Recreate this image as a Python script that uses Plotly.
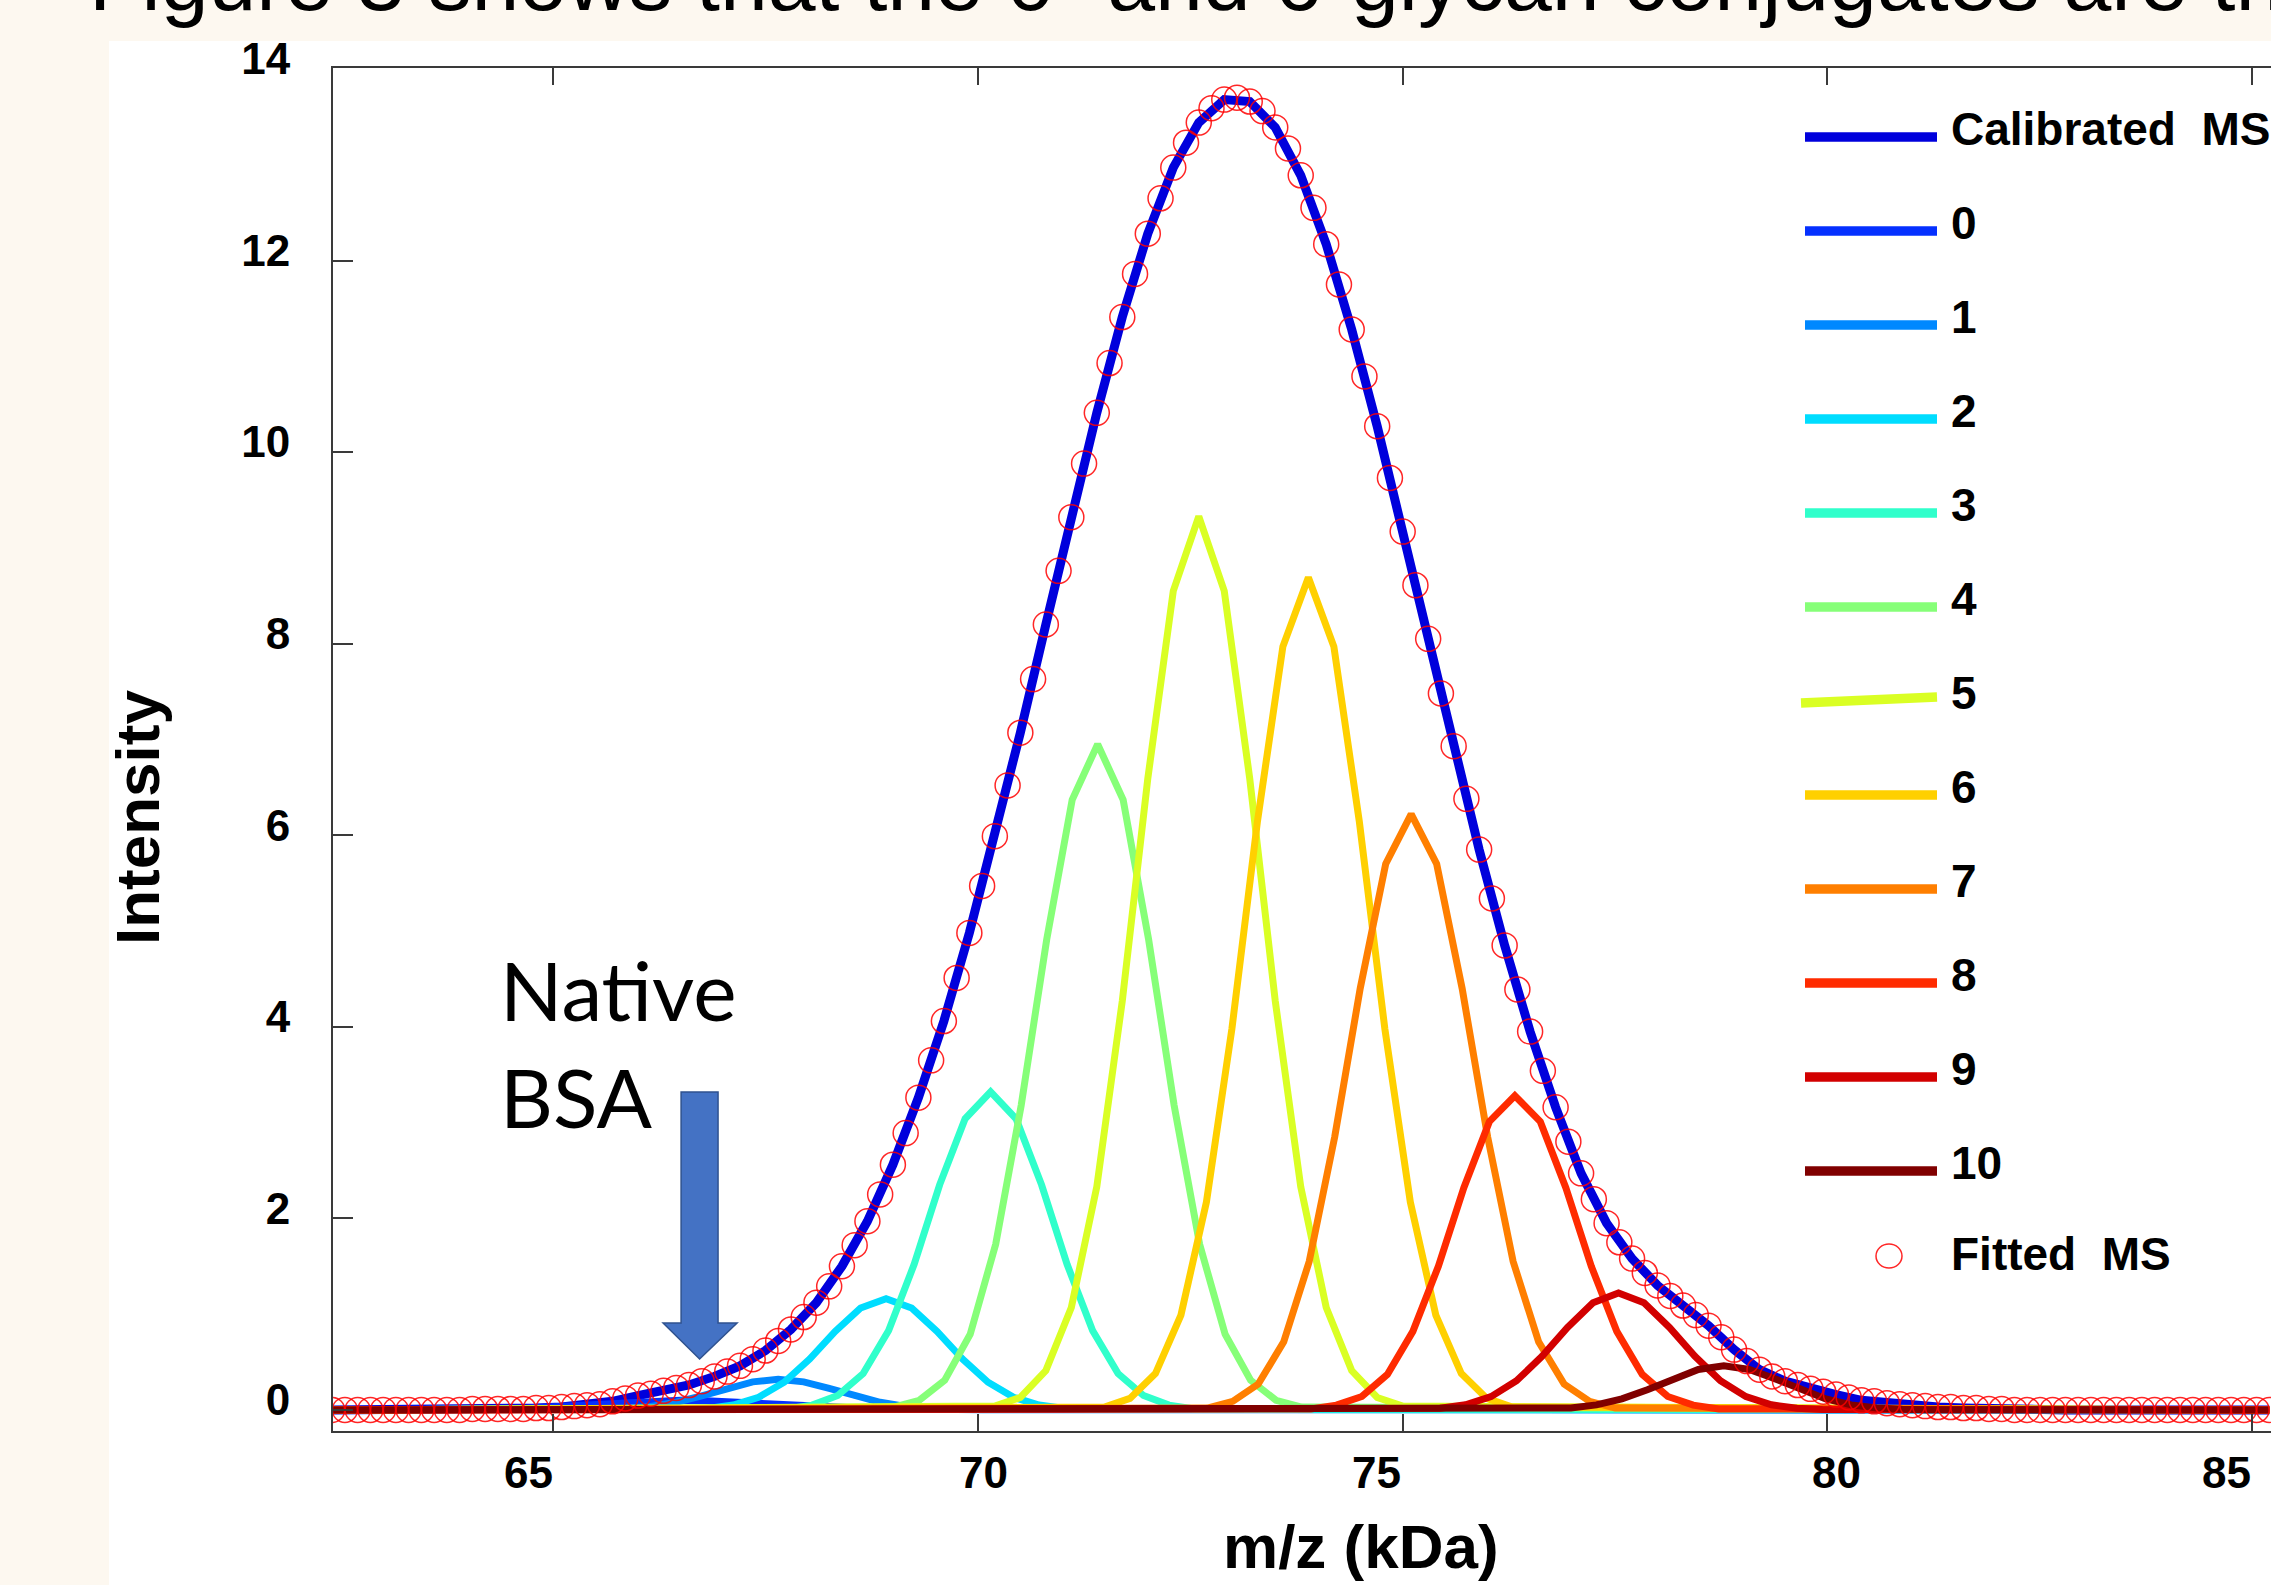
import plotly.graph_objects as go

# ---------------- data ----------------
mz_fit = [
    62.40, 62.55, 62.70, 62.85, 63.00, 63.15, 63.30, 63.45, 63.60, 63.75,
    63.90, 64.05, 64.20, 64.35, 64.50, 64.65, 64.80, 64.95, 65.10, 65.25,
    65.40, 65.55, 65.70, 65.85, 66.00, 66.15, 66.30, 66.45, 66.60, 66.75,
    66.90, 67.05, 67.20, 67.35, 67.50, 67.65, 67.80, 67.95, 68.10, 68.25,
    68.40, 68.55, 68.70, 68.85, 69.00, 69.15, 69.30, 69.45, 69.60, 69.75,
    69.90, 70.05, 70.20, 70.35, 70.50, 70.65, 70.80, 70.95, 71.10, 71.25,
    71.40, 71.55, 71.70, 71.85, 72.00, 72.15, 72.30, 72.45, 72.60, 72.75,
    72.90, 73.05, 73.20, 73.35, 73.50, 73.65, 73.80, 73.95, 74.10, 74.25,
    74.40, 74.55, 74.70, 74.85, 75.00, 75.15, 75.30, 75.45, 75.60, 75.75,
    75.90, 76.05, 76.20, 76.35, 76.50, 76.65, 76.80, 76.95, 77.10, 77.25,
    77.40, 77.55, 77.70, 77.85, 78.00, 78.15, 78.30, 78.45, 78.60, 78.75,
    78.90, 79.05, 79.20, 79.35, 79.50, 79.65, 79.80, 79.95, 80.10, 80.25,
    80.40, 80.55, 80.70, 80.85, 81.00, 81.15, 81.30, 81.45, 81.60, 81.75,
    81.90, 82.05, 82.20, 82.35, 82.50, 82.65, 82.80, 82.95, 83.10, 83.25,
    83.40, 83.55, 83.70, 83.85, 84.00, 84.15, 84.30, 84.45, 84.60, 84.75,
    84.90, 85.05, 85.20,
]
fitted_ms = [
    0.00, 0.00, 0.00, 0.00, 0.00, 0.00, 0.00, 0.00, 0.00, 0.00,
    0.00, 0.01, 0.01, 0.01, 0.01, 0.01, 0.02, 0.02, 0.03, 0.04,
    0.05, 0.06, 0.09, 0.12, 0.15, 0.17, 0.20, 0.23, 0.26, 0.30,
    0.35, 0.40, 0.46, 0.53, 0.62, 0.72, 0.84, 0.97, 1.12, 1.29,
    1.50, 1.72, 1.97, 2.25, 2.56, 2.89, 3.26, 3.65, 4.06, 4.51,
    4.98, 5.47, 5.99, 6.52, 7.07, 7.63, 8.20, 8.76, 9.32, 9.88,
    10.41, 10.93, 11.41, 11.86, 12.28, 12.65, 12.97, 13.23, 13.44, 13.59,
    13.68, 13.70, 13.66, 13.56, 13.39, 13.17, 12.89, 12.55, 12.17, 11.75,
    11.28, 10.79, 10.27, 9.73, 9.17, 8.61, 8.05, 7.48, 6.93, 6.38,
    5.85, 5.34, 4.85, 4.39, 3.95, 3.54, 3.16, 2.80, 2.47, 2.20,
    1.95, 1.75, 1.58, 1.43, 1.30, 1.19, 1.09, 0.99, 0.88, 0.76,
    0.63, 0.51, 0.42, 0.35, 0.30, 0.26, 0.22, 0.19, 0.16, 0.13,
    0.10, 0.09, 0.07, 0.06, 0.05, 0.04, 0.03, 0.03, 0.02, 0.02,
    0.01, 0.01, 0.00, 0.00, 0.00, 0.00, 0.00, 0.00, 0.00, 0.00,
    0.00, 0.00, 0.00, 0.00, 0.00, 0.00, 0.00, 0.00, 0.00, 0.00,
    0.00, 0.00, 0.00,
]

mz_cal = [
    62.4, 62.7, 63.0, 63.3, 63.6, 63.9, 64.2, 64.5, 64.8, 65.1,
    65.4, 65.7, 66.0, 66.3, 66.6, 66.9, 67.2, 67.5, 67.8, 68.1,
    68.4, 68.7, 69.0, 69.3, 69.6, 69.9, 70.2, 70.5, 70.8, 71.1,
    71.4, 71.7, 72.0, 72.3, 72.6, 72.9, 73.2, 73.5, 73.8, 74.1,
    74.4, 74.7, 75.0, 75.3, 75.6, 75.9, 76.2, 76.5, 76.8, 77.1,
    77.4, 77.7, 78.0, 78.3, 78.6, 78.9, 79.2, 79.5, 79.8, 80.1,
    80.4, 80.7, 81.0, 81.3, 81.6, 81.9, 82.2, 82.5, 82.8, 83.1,
    83.4, 83.7, 84.0, 84.3, 84.6, 84.9, 85.2,
]
calibrated_ms = [
    0.00, 0.00, 0.00, 0.00, 0.00, 0.00, 0.01, 0.01, 0.02, 0.03,
    0.05, 0.09, 0.15, 0.20, 0.26, 0.35, 0.46, 0.62, 0.84, 1.12,
    1.50, 1.97, 2.56, 3.26, 4.06, 4.98, 5.99, 7.07, 8.20, 9.32,
    10.41, 11.41, 12.28, 12.97, 13.44, 13.68, 13.66, 13.39, 12.89, 12.17,
    11.28, 10.27, 9.17, 8.05, 6.93, 5.85, 4.85, 3.95, 3.16, 2.47,
    1.95, 1.58, 1.30, 1.09, 0.88, 0.63, 0.42, 0.30, 0.22, 0.16,
    0.10, 0.07, 0.05, 0.03, 0.02, 0.01, 0.00, 0.00, 0.00, 0.00,
    0.00, 0.00, 0.00, 0.00, 0.00, 0.00, 0.00,
]

component_labels = ["0", "1", "2", "3", "4", "5", "6", "7", "8", "9", "10"]
component_mz = [
    [62.4, 64.1, 64.4, 64.7, 65.0, 65.3, 65.6, 65.9, 66.2, 66.5, 66.8, 67.1, 67.4, 67.7, 68.0, 68.3, 68.6, 68.9, 85.2],
    [62.4, 65.25, 65.55, 65.85, 66.15, 66.45, 66.75, 67.05, 67.35, 67.65, 67.95, 68.25, 68.55, 68.85, 69.15, 69.45, 69.75, 70.05, 85.2],
    [62.4, 66.52, 66.82, 67.12, 67.42, 67.72, 68.02, 68.32, 68.62, 68.92, 69.22, 69.52, 69.82, 70.12, 70.42, 70.72, 71.02, 71.32, 85.2],
    [62.4, 67.75, 68.05, 68.35, 68.65, 68.95, 69.25, 69.55, 69.85, 70.15, 70.45, 70.75, 71.05, 71.35, 71.65, 71.95, 72.25, 72.55, 85.2],
    [62.4, 69.01, 69.31, 69.61, 69.91, 70.21, 70.51, 70.81, 71.11, 71.41, 71.71, 72.01, 72.31, 72.61, 72.91, 73.21, 73.51, 73.81, 85.2],
    [62.4, 70.2, 70.5, 70.8, 71.1, 71.4, 71.7, 72.0, 72.3, 72.6, 72.9, 73.2, 73.5, 73.8, 74.1, 74.4, 74.7, 75.0, 85.2],
    [62.4, 71.49, 71.79, 72.09, 72.39, 72.69, 72.99, 73.29, 73.59, 73.89, 74.19, 74.49, 74.79, 75.09, 75.39, 75.69, 75.99, 76.29, 85.2],
    [62.4, 72.7, 73.0, 73.3, 73.6, 73.9, 74.2, 74.5, 74.8, 75.1, 75.4, 75.7, 76.0, 76.3, 76.6, 76.9, 77.2, 77.5, 85.2],
    [62.4, 73.92, 74.22, 74.52, 74.82, 75.12, 75.42, 75.72, 76.02, 76.32, 76.62, 76.92, 77.22, 77.52, 77.82, 78.12, 78.42, 78.72, 85.2],
    [62.4, 75.14, 75.44, 75.74, 76.04, 76.34, 76.64, 76.94, 77.24, 77.54, 77.84, 78.14, 78.44, 78.74, 79.04, 79.34, 79.64, 79.94, 85.2],
    [62.4, 76.38, 76.68, 76.98, 77.28, 77.58, 77.88, 78.18, 78.48, 78.78, 79.08, 79.38, 79.68, 79.98, 80.28, 80.58, 80.88, 81.18, 85.2],
]
component_intensity = [
    [0, 0.006, 0.011, 0.020, 0.033, 0.049, 0.067, 0.084, 0.096, 0.100, 0.096, 0.084, 0.067, 0.049, 0.033, 0.020, 0.011, 0.006, 0],
    [0, 0.001, 0.005, 0.014, 0.037, 0.080, 0.146, 0.226, 0.293, 0.320, 0.293, 0.226, 0.146, 0.080, 0.037, 0.014, 0.005, 0.001, 0],
    [0, 0.005, 0.016, 0.051, 0.132, 0.289, 0.531, 0.820, 1.064, 1.160, 1.064, 0.820, 0.531, 0.289, 0.132, 0.051, 0.016, 0.005, 0],
    [0, 0.01, 0.05, 0.15, 0.38, 0.83, 1.52, 2.35, 3.04, 3.32, 3.04, 2.35, 1.52, 0.83, 0.38, 0.15, 0.05, 0.01, 0],
    [0, 0.03, 0.10, 0.31, 0.79, 1.73, 3.18, 4.91, 6.37, 6.95, 6.37, 4.91, 3.18, 1.73, 0.79, 0.31, 0.10, 0.03, 0],
    [0, 0.04, 0.13, 0.41, 1.07, 2.33, 4.27, 6.59, 8.55, 9.33, 8.55, 6.59, 4.27, 2.33, 1.07, 0.41, 0.13, 0.04, 0],
    [0, 0.03, 0.12, 0.38, 0.99, 2.17, 3.98, 6.14, 7.97, 8.69, 7.97, 6.14, 3.98, 2.17, 0.99, 0.38, 0.12, 0.03, 0],
    [0, 0.02, 0.09, 0.27, 0.71, 1.55, 2.85, 4.40, 5.70, 6.22, 5.70, 4.40, 2.85, 1.55, 0.71, 0.27, 0.09, 0.02, 0],
    [0, 0.01, 0.05, 0.14, 0.37, 0.82, 1.50, 2.32, 3.01, 3.28, 3.01, 2.32, 1.50, 0.82, 0.37, 0.14, 0.05, 0.01, 0],
    [0, 0.005, 0.017, 0.054, 0.139, 0.304, 0.559, 0.862, 1.119, 1.220, 1.119, 0.862, 0.559, 0.304, 0.139, 0.054, 0.017, 0.005, 0],
    [0, 0.002, 0.007, 0.020, 0.053, 0.115, 0.211, 0.325, 0.422, 0.460, 0.422, 0.325, 0.211, 0.115, 0.053, 0.020, 0.007, 0.002, 0],
]

x_tick_values = [65, 70, 75, 80, 85]
x_tick_labels = ["65", "70", "75", "80", "85"]
y_tick_values = [0, 2, 4, 6, 8, 10, 12, 14]
y_tick_labels = ["0", "2", "4", "6", "8", "10", "12", "14"]

top_text = "Figure 3 shows that the 0- and 6-glycan conjugates are th"
x_title = "m/z (kDa)"
y_title = "Intensity"
note_text = "Native<br>BSA"
calibrated_name = "Calibrated\u00a0 MS"
fitted_name = "Fitted\u00a0 MS"

# ---------------- layout / style ----------------
W, H = 2271, 1585
ML, MR, MT, MB = 333, 0, 68, 154
PW = W - ML - MR
PH = H - MT - MB


def px_x(p):
    return (p - ML) / PW


def px_y(p):
    return (H - MB - p) / PH


X_RANGE = [62.41, 85.22]
Y_RANGE = [-0.22, 14.01]
CREAM = "#FDF8F0"
CAL_COLOR = "#0000DC"
COMP_COLORS = ["#0530FF", "#0088FF", "#00DDFF", "#30FFCB", "#86FF78", "#DAFF24",
               "#FFD000", "#FF7F00", "#FF2B00", "#D20000", "#800000"]
FIT_COLOR = "rgba(255,0,0,0.85)"
AXIS_COLOR = "#3a3a3a"
FONT = "Liberation Sans"
BOLD44 = dict(family=FONT, size=44, color="black", weight="bold")
x_label_shift_px = [-25, 6, -26, 9, -26]

fig = go.Figure()
fig.add_trace(go.Scatter(x=mz_cal, y=calibrated_ms, mode="lines", name=calibrated_name,
                         line=dict(color=CAL_COLOR, width=9), showlegend=False))
for lab, xs, ys, col in zip(component_labels, component_mz, component_intensity, COMP_COLORS):
    fig.add_trace(go.Scatter(x=xs, y=ys, mode="lines", name=lab,
                             line=dict(color=col, width=7), showlegend=False))
fig.add_trace(go.Scatter(x=mz_fit, y=fitted_ms, mode="markers", name=fitted_name,
                         marker=dict(symbol="circle-open", size=25, color=FIT_COLOR,
                                     line=dict(width=1.5, color=FIT_COLOR)),
                         showlegend=False))

shapes = []
# white slide panel behind the chart
shapes.append(dict(type="rect", xref="paper", yref="paper", layer="below",
                   x0=px_x(109), x1=1.05, y0=-0.3, y1=px_y(41),
                   fillcolor="white", line=dict(width=0)))
# blue arrow pointing at native BSA
ax0, ax1, hx0, hx1, axt = 66.507, 66.942, 66.295, 67.166, 66.725
ayt, ayn, ayp = 3.32, 0.908, 0.532
shapes.append(dict(type="path", xref="x", yref="y", layer="above",
                   path=f"M {ax0},{ayt} L {ax1},{ayt} L {ax1},{ayn} L {hx1},{ayn} "
                        f"L {axt},{ayp} L {hx0},{ayn} L {ax0},{ayn} Z",
                   fillcolor="#4472C4", line=dict(color="#2F528F", width=1.5)))

annotations = []
# legend (custom, long sample lines)
legend_names = [calibrated_name] + component_labels
legend_colors = [CAL_COLOR] + COMP_COLORS
LEG_X0, LEG_X1, LEG_TX = 1805, 1937, 1949
LEG_ROW0, LEG_STEP = 137, 94
legend_tilt_px = {"5": (2, -4, -4)}
for i, (nm, col) in enumerate(zip(legend_names, legend_colors)):
    yrow = LEG_ROW0 + LEG_STEP * i
    dl, dr, dx = legend_tilt_px.get(nm, (0, 0, 0))
    shapes.append(dict(type="line", xref="paper", yref="paper",
                       x0=px_x(LEG_X0 + dx), x1=px_x(LEG_X1), y0=px_y(yrow + dl), y1=px_y(yrow + dr),
                       line=dict(color=col, width=9.5)))
    annotations.append(dict(xref="paper", yref="paper", x=px_x(LEG_TX), y=px_y(yrow - 8),
                            xanchor="left", yanchor="middle", text=nm, showarrow=False,
                            font=dict(family=FONT, size=46, color="black", weight="bold")))
fit_row = 1256
shapes.append(dict(type="circle", xref="paper", yref="paper", xsizemode="pixel", ysizemode="pixel",
                   xanchor=px_x(1889), yanchor=px_y(fit_row), x0=-13, x1=13, y0=-12, y1=12,
                   line=dict(color=FIT_COLOR, width=1.5)))
annotations.append(dict(xref="paper", yref="paper", x=px_x(LEG_TX), y=px_y(fit_row - 2),
                        xanchor="left", yanchor="middle", text=fitted_name, showarrow=False,
                        font=dict(family=FONT, size=46, color="black", weight="bold")))

# x tick labels
for v, t, sh in zip(x_tick_values, x_tick_labels, x_label_shift_px):
    annotations.append(dict(xref="x", yref="paper", x=v, y=px_y(1472), xshift=sh,
                            xanchor="center", yanchor="middle", text=t, showarrow=False,
                            font=BOLD44))
# axis titles
annotations.append(dict(xref="paper", yref="paper", x=px_x(1361), y=px_y(1547),
                        xanchor="center", yanchor="middle", text=x_title, showarrow=False,
                        font=dict(family=FONT, size=62, color="black", weight="bold")))
annotations.append(dict(xref="paper", yref="paper", x=px_x(137), y=px_y(818), textangle=-90,
                        xanchor="center", yanchor="middle", text=y_title, showarrow=False,
                        font=dict(family=FONT, size=62, color="black", weight="bold")))
# slide text cut off at the top
annotations.append(dict(xref="paper", yref="paper", x=px_x(87), y=px_y(30),
                        xanchor="left", yanchor="bottom", text=top_text, showarrow=False,
                        font=dict(family=FONT, size=86, color="black")))
# Native BSA note
annotations.append(dict(xref="paper", yref="paper", x=px_x(498), y=px_y(1042),
                        xanchor="left", yanchor="middle", align="left", text=note_text,
                        showarrow=False, font=dict(family="Lato", size=82, color="black")))

fig.update_layout(
    width=W, height=H, margin=dict(l=ML, r=MR, t=MT, b=MB, pad=0),
    paper_bgcolor=CREAM, plot_bgcolor="white", showlegend=False,
    font=dict(family=FONT, color="black"),
    shapes=shapes, annotations=annotations,
    xaxis=dict(range=X_RANGE, showline=True, linecolor=AXIS_COLOR, linewidth=2, mirror="ticks",
               ticks="inside", ticklen=17, tickwidth=1.5, tickcolor=AXIS_COLOR,
               tickvals=x_tick_values, showticklabels=False, showgrid=False, zeroline=False),
    yaxis=dict(range=Y_RANGE, showline=True, linecolor=AXIS_COLOR, linewidth=2, mirror=False,
               ticks="inside", ticklen=20, tickwidth=1.5, tickcolor=AXIS_COLOR,
               tickvals=y_tick_values, ticktext=y_tick_labels, tickfont=BOLD44,
               ticklabelstandoff=32, ticklabelshift=-10, showgrid=False, zeroline=False),
)

fig.write_html("out.html", config={"displayModeBar": False},
               post_script="document.body.style.margin='0';document.body.style.overflow='hidden';")
